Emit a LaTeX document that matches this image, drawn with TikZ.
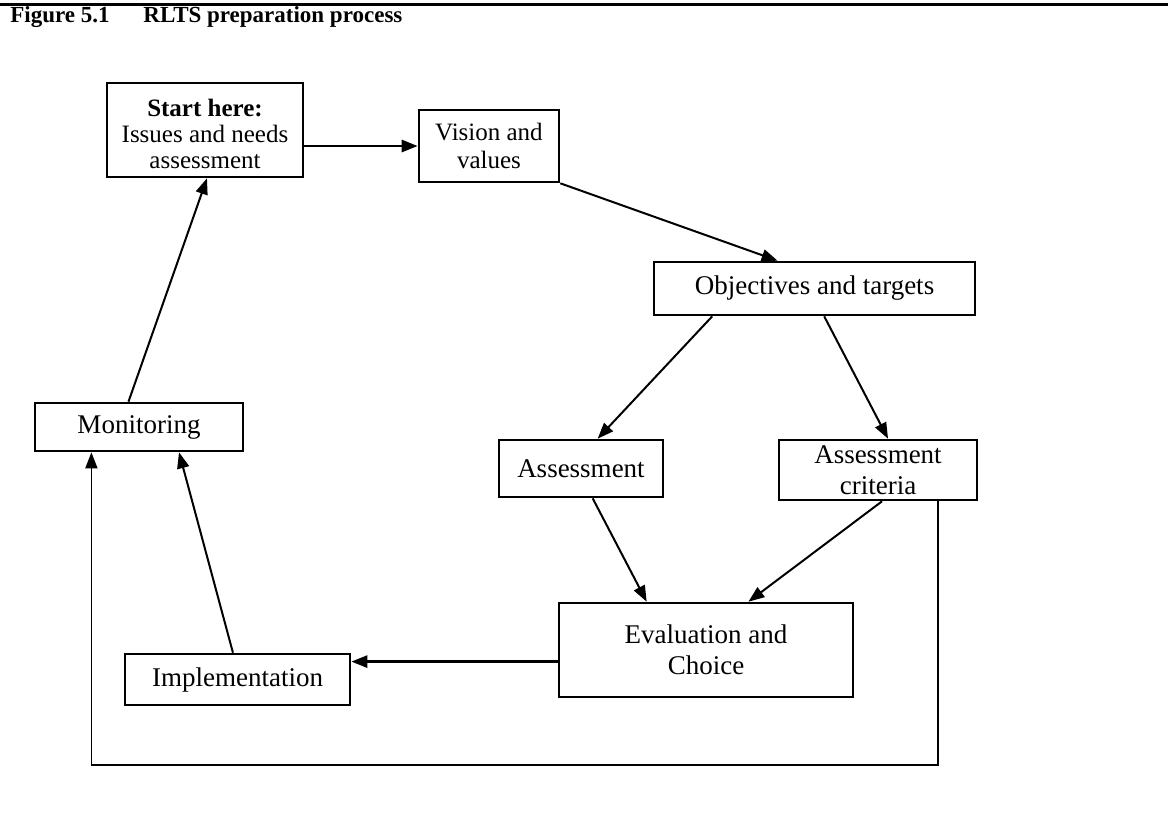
\documentclass[tikz,border=0pt]{standalone}
\usepackage{fontspec}
\setmainfont{Liberation Serif}
\usetikzlibrary{arrows.meta,calc}

\tikzset{
  stage/.style={draw, line width=1.3pt, align=center, inner sep=0pt,
    font=\fontsize{13.5}{15.5}\selectfont},
  flow/.style={-{Triangle[length=8pt,width=6pt]}, line width=1pt},
  heading/.style={anchor=west, inner sep=0pt, font=\fontsize{11.5}{13}\selectfont\bfseries}
}

\begin{document}
\begin{tikzpicture}[x=0.5pt,y=-0.5pt]
  \useasboundingbox (0,0) rectangle (1168,821);
  % heading
  \draw[line width=1.5pt] (0,4) -- (1168,4);
  \node[heading] (fig) at (10,17) {Figure 5.1};
  \node[heading] (caption) at (143,17) {RLTS preparation process};

  % stages
  \node[stage, minimum width=98pt, minimum height=47pt, font=\fontsize{12.5}{13}\selectfont] (start) at (205,130)
    {\rule{0pt}{13pt}\textbf{Start here:}\\Issues and needs\\assessment};
  \node[stage, minimum width=70pt, minimum height=36pt, font=\fontsize{12.5}{14}\selectfont] (vision) at (489,146) {Vision and\\values};
  \node[stage, minimum width=160.5pt, minimum height=26.5pt] (objectives) at (814.5,288.5) {Objectives and targets};
  \node[stage, minimum width=82pt, minimum height=28.5pt] (assess) at (581,468.5) {Assessment};
  \node[stage, minimum width=99pt, minimum height=30pt] (criteria) at (878,470) {Assessment\\criteria};
  \node[stage, minimum width=104pt, minimum height=24pt] (monitor) at (139,427) {Monitoring};
  \node[stage, minimum width=147pt, minimum height=47pt] (eval) at (706,650) {Evaluation and\\Choice};
  \node[stage, minimum width=112.5pt, minimum height=25.5pt] (impl) at (237.5,679.5) {Implementation};

  % connectors
  \draw[flow, line width=1.4pt] (start.east |- vision.west) -- (vision.west);
  \draw[flow] (vision.south east) -- ($(objectives.north west)!0.386!(objectives.north east)$);
  \draw[flow] ($(objectives.south west)!0.184!(objectives.south east)$) -- ($(assess.north west)!0.6!(assess.north east)$);
  \draw[flow] ($(objectives.south west)!0.53!(objectives.south east)$) -- ($(criteria.north west)!0.55!(criteria.north east)$);
  \draw[flow] ($(assess.south west)!0.57!(assess.south east)$) -- ($(eval.north west)!0.30!(eval.north east)$);
  \draw[flow] ($(criteria.south west)!0.52!(criteria.south east)$) -- ($(eval.north west)!0.643!(eval.north east)$);
  \coordinate (evalout) at ($(eval.north west)!0.62!(eval.south west)$);
  \draw[flow, line width=1.3pt] (evalout) -- (evalout -| impl.east);
  \draw[flow] ($(impl.north west)!0.48!(impl.north east)$) -- ($(monitor.south west)!0.69!(monitor.south east)$);
  \draw[flow] ($(monitor.north west)!0.45!(monitor.north east)$) -- ($(start.south west)!0.51!(start.south east)$);

  % feedback loop
  \coordinate (loopbase) at (0,765);
  \coordinate (critout) at ($(criteria.south west)!0.80!(criteria.south east)$);
  \draw[flow, line width=0.8pt] (critout) -- (critout |- loopbase) -| ($(monitor.south west)!0.274!(monitor.south east)$);
\end{tikzpicture}
\end{document}
